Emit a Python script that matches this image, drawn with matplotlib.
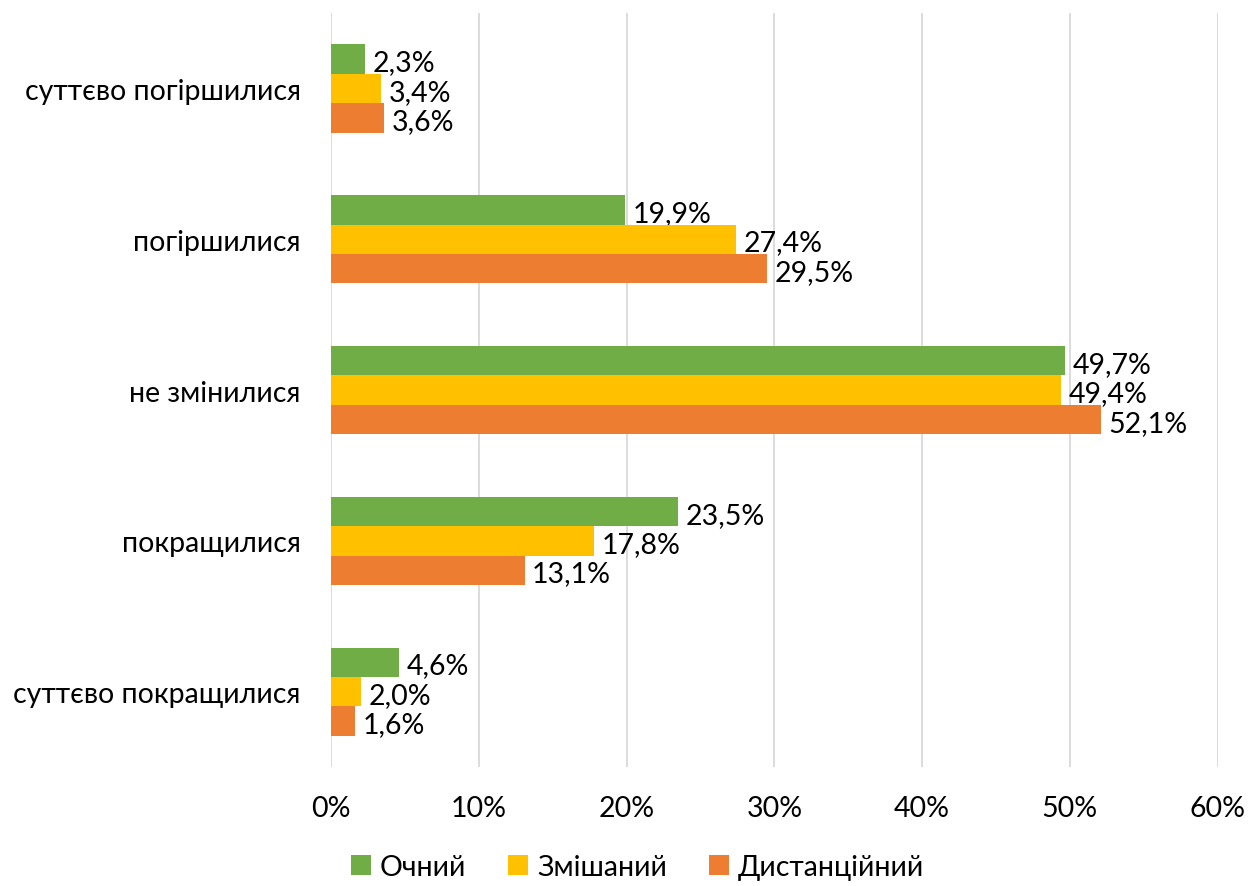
import matplotlib.pyplot as plt
import numpy as np

plt.rcParams['font.family'] = ['Lato', 'DejaVu Sans']

categories = ['суттєво погіршилися', 'погіршилися', 'не змінилися',
              'покращилися', 'суттєво покращилися']
series = ['Очний', 'Змішаний', 'Дистанційний']
ochnyi = [2.3, 19.9, 49.7, 23.5, 4.6]
zmishanyi = [3.4, 27.4, 49.4, 17.8, 2.0]
dystantsiinyi = [3.6, 29.5, 52.1, 13.1, 1.6]
colors = ['#70AD47', '#FFC000', '#ED7D31']

fs = 20.5

fig = plt.figure(figsize=(12.5, 8.87), dpi=100)
ax = fig.add_axes([0.265, 0.134, 0.709, 0.85])

y = np.arange(len(categories))
h = 0.195
for i, (name, vals, c) in enumerate(zip(series, [ochnyi, zmishanyi, dystantsiinyi], colors)):
    pos = y + (i - 1) * h
    ax.barh(pos, vals, height=h, color=c, label=name, zorder=3)
    for p, v in zip(pos, vals):
        ax.text(v + 0.5, p + 0.02, f'{v:.1f}%'.replace('.', ','), va='center', ha='left',
                fontsize=fs, color='#000000')

ax.set_ylim(4.5, -0.5)
ax.set_xlim(0, 60)
ax.set_xticks(range(0, 61, 10))
ax.set_xticklabels([f'{t}%' for t in range(0, 61, 10)], fontsize=fs)
ax.set_yticks(y)
ax.set_yticklabels(categories, fontsize=fs)
ax.tick_params(length=0)
ax.tick_params(axis='x', pad=20)
ax.tick_params(axis='y', pad=22)
ax.grid(axis='x', color='#D9D9D9', linewidth=1.3, zorder=0)
for s in ax.spines.values():
    s.set_visible(False)

fig.legend(loc='lower center', ncol=3, frameon=False, fontsize=fs,
           bbox_to_anchor=(0.51, -0.022), handlelength=0.7, handleheight=0.7,
           columnspacing=1.5, handletextpad=0.3)

fig.savefig('out.png')
